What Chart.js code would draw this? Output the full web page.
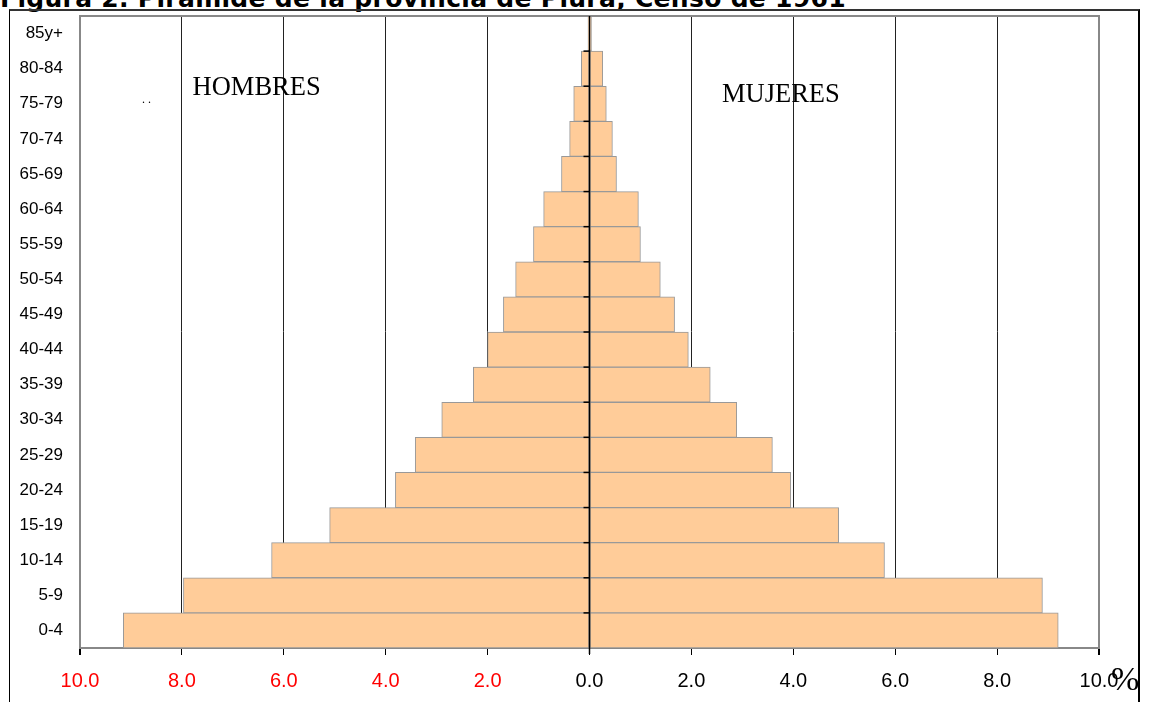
<!DOCTYPE html>
<html>
<head>
<meta charset="utf-8">
<script src="https://cdn.jsdelivr.net/npm/chart.js@4.4.0/dist/chart.umd.min.js"></script>
<style>
  html, body { margin: 0; padding: 0; background: #fff; overflow: hidden; }
  #wrap { position: relative; width: 1149px; height: 702px; }
  #title {
    position: absolute; left: 0; top: -16px; white-space: nowrap;
    font: bold 25px "DejaVu Sans", sans-serif; color: #000; letter-spacing: 0.3px;
  }
  #frame {
    position: absolute; left: 9px; top: 9px; width: 1128px; height: 700px;
    border-top: 2px solid #333; border-left: 1px solid #000; border-right: 2px solid #000;
  }
  canvas { position: absolute; left: 0; top: 0; }
</style>
</head>
<body>
<div id="wrap">
  <div id="title">Figura 2. Pirámide de la provincia de Piura, Censo de 1961</div>
  <div id="frame"></div>
  <canvas id="pyramid" width="1149" height="702"></canvas>
</div>
<script>
// grupos de edad, de abajo hacia arriba
const ageGroups = ['0-4', '5-9', '10-14', '15-19', '20-24', '25-29', '30-34', '35-39', '40-44',
  '45-49', '50-54', '55-59', '60-64', '65-69', '70-74', '75-79', '80-84', '85y+'];
// porcentajes de la población total
const hombres = [9.15, 7.97, 6.24, 5.10, 3.81, 3.42, 2.90, 2.28, 2.00, 1.69, 1.45, 1.10, 0.90, 0.55, 0.39, 0.31, 0.16, 0.03];
const mujeres = [9.20, 8.89, 5.79, 4.89, 3.95, 3.59, 2.89, 2.37, 1.94, 1.67, 1.39, 1.00, 0.96, 0.53, 0.45, 0.33, 0.26, 0.04];
const xTicks = [-10, -8, -6, -4, -2, 0, 2, 4, 6, 8, 10];

const barFill = '#FFCC99';
const barEdge = '#999999';

// textos sobre el grafico + marcas del eje central
const extras = {
  id: 'extras',
  afterDraw(chart) {
    const c = chart.ctx;
    const xs = chart.scales.x, ys = chart.scales.y, a = chart.chartArea;
    c.save();
    // borde superior y derecho del area
    c.strokeStyle = '#888';
    c.lineWidth = 2;
    c.beginPath();
    c.moveTo(a.left, a.top); c.lineTo(a.right, a.top); c.lineTo(a.right, a.bottom);
    c.stroke();
    // eje central
    const x0 = xs.getPixelForValue(0);
    c.strokeStyle = '#000';
    c.lineWidth = 1.5;
    c.beginPath();
    c.moveTo(x0, a.top); c.lineTo(x0, a.bottom + 6);
    c.stroke();
    for (let i = 0; i < ageGroups.length - 1; i++) {
      const yb = (ys.getPixelForValue(i) + ys.getPixelForValue(i + 1)) / 2;
      c.beginPath(); c.moveTo(x0 - 6, yb); c.lineTo(x0, yb); c.stroke();
    }
    // etiquetas
    c.fillStyle = '#000';
    c.textBaseline = 'middle';
    c.font = '26.5px "Liberation Serif", serif';
    c.fillText('HOMBRES', xs.getPixelForValue(-7.79), 88);
    c.fillText('MUJERES', xs.getPixelForValue(2.6), 95);
    c.font = '12px "Liberation Serif", serif';
    c.fillText('. .', 142, 100);
    c.font = '34px "Liberation Serif", serif';
    c.fillText('%', 1111, 681);
    c.restore();
  }
};

new Chart(document.getElementById('pyramid'), {
  type: 'bar',
  data: {
    labels: ageGroups,
    datasets: [{
      label: 'Hombres',
      data: hombres.map(v => -v),
      backgroundColor: barFill,
      borderColor: barEdge,
      borderWidth: 1,
      borderSkipped: false,
      barPercentage: 1,
      categoryPercentage: 1,
    }, {
      label: 'Mujeres',
      data: mujeres,
      backgroundColor: barFill,
      borderColor: barEdge,
      borderWidth: 1,
      borderSkipped: false,
      barPercentage: 1,
      categoryPercentage: 1,
    }]
  },
  options: {
    indexAxis: 'y',
    responsive: false,
    animation: false,
    layout: { padding: { left: 10, top: 16, right: 50, bottom: 0 } },
    plugins: { legend: { display: false }, tooltip: { enabled: false } },
    scales: {
      x: {
        stacked: true,
        min: -10, max: 10,
        afterBuildTicks: s => { s.ticks = xTicks.map(v => ({ value: v })); },
        afterFit: s => { s.height = 54; s.paddingLeft = 0; s.paddingRight = 0; },
        grid: {
          color: ctx => (Math.abs(ctx.tick.value) === 10 ? '#888' : '#222'),
          lineWidth: ctx => (Math.abs(ctx.tick.value) === 10 ? 2 : 1),
          tickLength: 7,
          tickColor: '#000',
        },
        border: { color: '#888', width: 2 },
        ticks: {
          padding: 14,
          font: { family: '"Liberation Sans", Arial, sans-serif', size: 20 },
          color: ctx => (ctx.tick.value < 0 ? '#ff0000' : '#000'),
          callback: v => Math.abs(v).toFixed(1),
        }
      },
      y: {
        stacked: true,
        reverse: true,
        afterFit: s => { s.width = 70; s.paddingTop = 0; s.paddingBottom = 0; },
        grid: { display: false },
        border: { color: '#888', width: 2 },
        ticks: {
          padding: 9,
          color: '#000',
          font: { family: '"Liberation Sans", Arial, sans-serif', size: 17 },
        }
      }
    }
  },
  plugins: [extras]
});
</script>
</body>
</html>
